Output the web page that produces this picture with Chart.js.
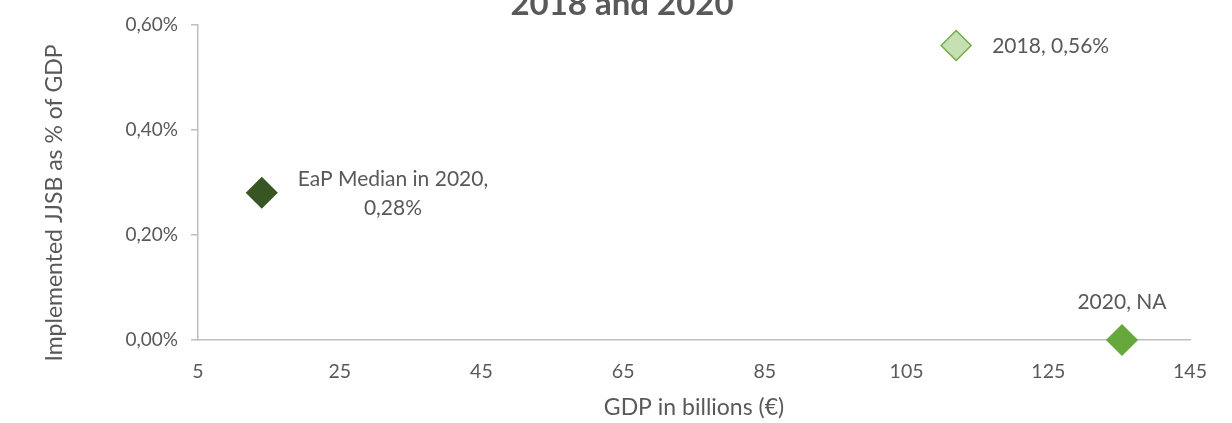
<!DOCTYPE html>
<html>
<head>
<meta charset="utf-8">
<script src="https://cdn.jsdelivr.net/npm/chart.js@4"></script>
<style>
  html, body { margin: 0; padding: 0; background: #fff; }
  #wrap { width: 1232px; height: 423px; position: relative; }
</style>
</head>
<body>
<div id="wrap"><canvas id="chartJjsb"></canvas></div>
<script>
// ====== DATA ======
const gdpBillions = [14, 112, 135.4];
const jjsbShare = [0.28, 0.56, 0];
const pointLabels = [['EaP Median in 2020,', '0,28%'], ['2018, 0,56%'], ['2020, NA']];
const xTicks = [5, 25, 45, 65, 85, 105, 125, 145];
const yTicks = [0, 0.2, 0.4, 0.6];

// ====== STYLE ======
const COLORS = {
    escuro: '#375623',
    claro:  '#C6E0B4',
    medio:  '#66A83C',
    borda:  '#70AD47',
    eixo:   '#BFBFBF',
    texto:  '#595959',
};
const labelSide = ['right', 'right', 'top'];
const FONT = 'Lato, "Open Sans", sans-serif';

const fmtPct = v => v.toFixed(2).replace('.', ',') + '%';

// titulo cortado no topo + rotulos dos pontos
const labelsPlugin = {
    id: 'labels',
    afterDatasetsDraw(chart) {
        const ctx = chart.ctx;
        ctx.save();
        ctx.fillStyle = COLORS.texto;

        // title (top line cut off in the picture)
        ctx.font = `bold 33px ${FONT}`;
        ctx.textAlign = 'center';
        ctx.textBaseline = 'alphabetic';
        ctx.fillText('2018 and 2020', 622, 15);

        // y axis title
        ctx.save();
        ctx.font = `23px ${FONT}`;
        ctx.translate(55, 203);
        ctx.rotate(-Math.PI / 2);
        ctx.textBaseline = 'middle';
        ctx.fillText('Implemented JJSB as % of GDP', 0, 0);
        ctx.restore();

        // data labels
        ctx.font = `21px ${FONT}`;
        ctx.textBaseline = 'middle';
        const meta = chart.getDatasetMeta(0);
        meta.data.forEach((pt, i) => {
            const lines = pointLabels[i];
            const lh = 29;
            if (labelSide[i] === 'right') {
                const w = Math.max(...lines.map(l => ctx.measureText(l).width));
                const cx = pt.x + 36 + w / 2;
                const y0 = pt.y + 1 - (lines.length - 1) * lh / 2;
                ctx.textAlign = 'center';
                lines.forEach((l, k) => ctx.fillText(l, cx, y0 + k * lh));
            } else {
                ctx.textAlign = 'center';
                ctx.fillText(lines[0], pt.x, pt.y - 38);
            }
        });
        ctx.restore();
    }
};

new Chart(document.getElementById('chartJjsb'), {
    type: 'scatter',
    data: {
        datasets: [{
            data: gdpBillions.map((x, i) => ({ x, y: jjsbShare[i] })),
            pointStyle: 'rectRot',
            pointRadius: 15,
            pointHoverRadius: 15,
            pointBackgroundColor: [COLORS.escuro, COLORS.claro, COLORS.medio],
            pointBorderColor: [COLORS.escuro, COLORS.borda, COLORS.medio],
            pointBorderWidth: 1.5,
            clip: false,
        }]
    },
    options: {
        responsive: true,
        maintainAspectRatio: false,
        animation: false,
        layout: { padding: { top: 24, right: 42, left: 0, bottom: 0 } },
        plugins: {
            legend: { display: false },
            tooltip: { enabled: false },
        },
        scales: {
            x: {
                type: 'linear',
                min: xTicks[0],
                max: xTicks[xTicks.length - 1],
                afterBuildTicks: s => { s.ticks = xTicks.map(v => ({ value: v })); },
                afterFit: s => { s.height = 83; },
                grid: { display: false, drawTicks: false },
                border: { display: true, color: COLORS.eixo, width: 1.5 },
                ticks: { color: COLORS.texto, padding: 20, maxRotation: 0, font: { family: FONT, size: 19.5 } },
                title: {
                    display: true,
                    text: 'GDP in billions (€)',
                    color: COLORS.texto,
                    font: { family: FONT, size: 23 },
                    padding: { top: 0, bottom: 2 }
                }
            },
            y: {
                min: yTicks[0],
                max: yTicks[yTicks.length - 1],
                afterBuildTicks: s => { s.ticks = yTicks.map(v => ({ value: v })); },
                afterFit: s => { s.width = 198; },
                grid: { drawOnChartArea: false, drawTicks: true, tickLength: 7, color: COLORS.eixo, lineWidth: 1.5 },
                border: { display: true, color: COLORS.eixo, width: 1.5 },
                ticks: {
                    color: COLORS.texto,
                    padding: 13,
                    font: { family: FONT, size: 19 },
                    callback: v => fmtPct(v)
                }
            }
        }
    },
    plugins: [labelsPlugin]
});
</script>
</body>
</html>
